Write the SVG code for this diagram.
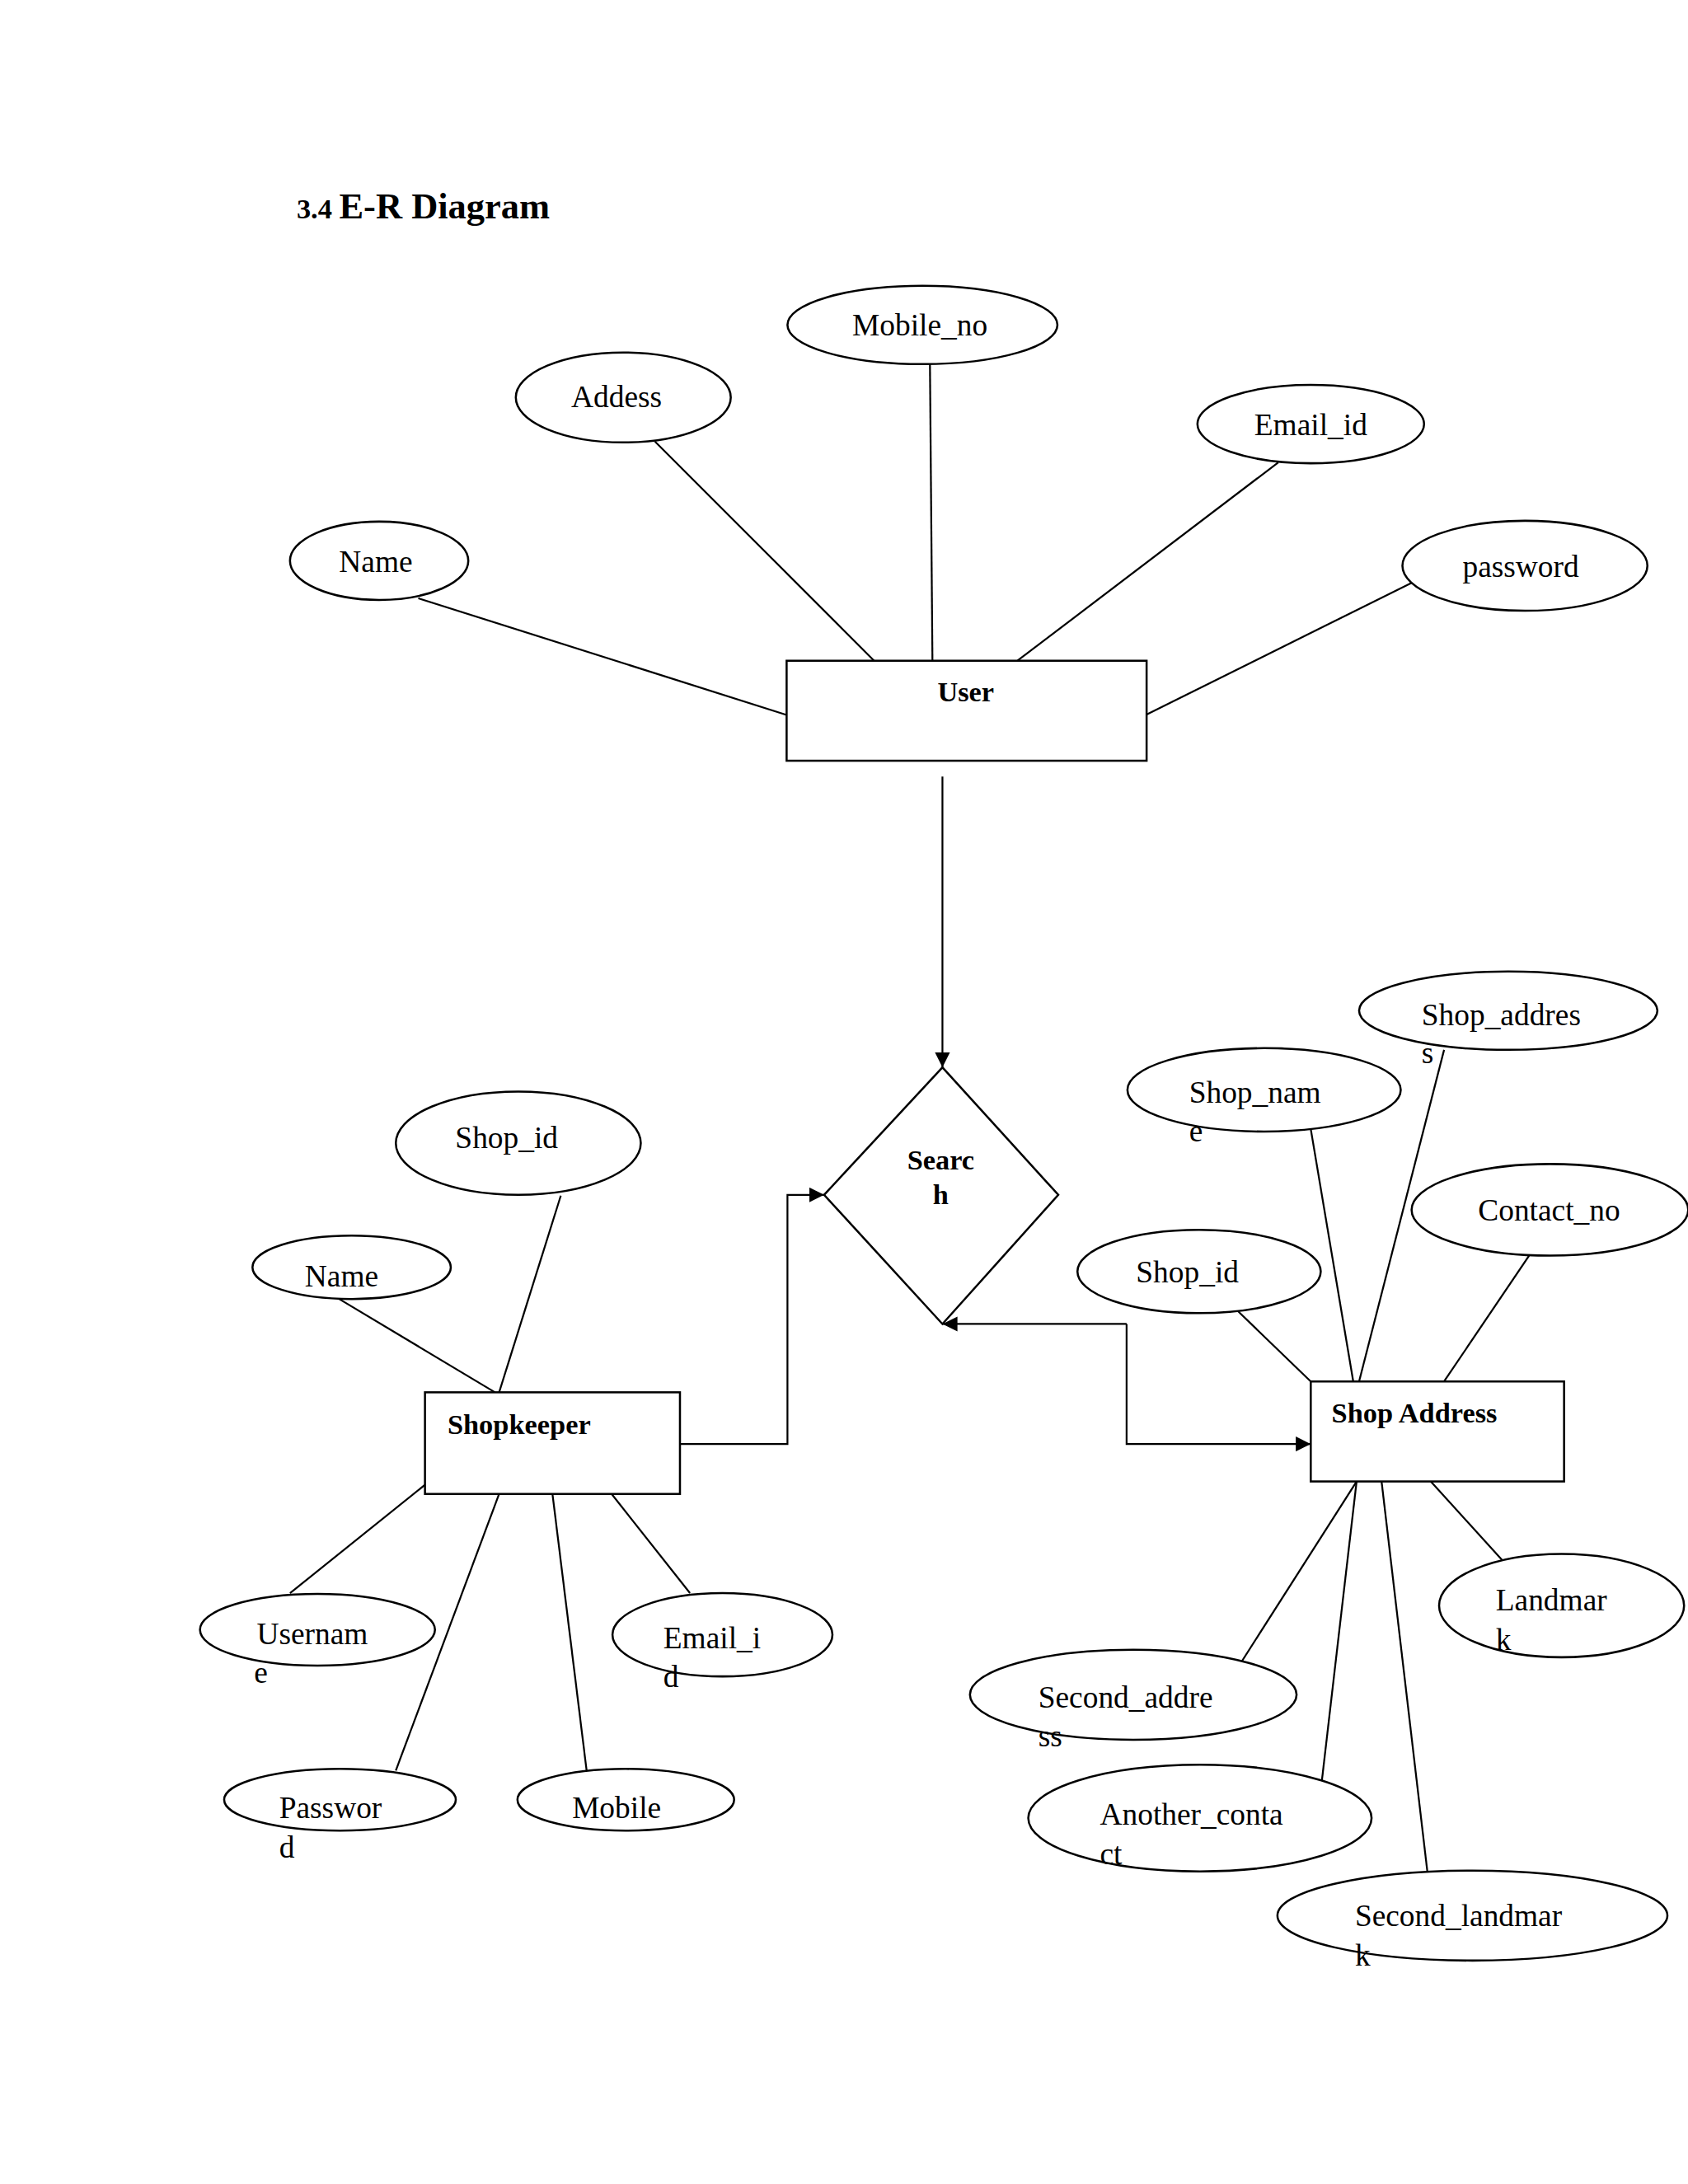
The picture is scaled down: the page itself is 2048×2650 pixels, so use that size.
<svg xmlns="http://www.w3.org/2000/svg" width="2048" height="2650" viewBox="0 0 2048 2650">
<style>
.e{fill:#fff;stroke:#000;stroke-width:2.5}
.r{fill:#fff;stroke:#000;stroke-width:2.5}
.t{font-family:"Liberation Serif",serif;font-size:37px;fill:#000}
.c{text-anchor:middle}
.b{font-family:"Liberation Serif",serif;font-size:34px;font-weight:bold;fill:#000}
#conn line,#conn polyline{stroke:#000;stroke-width:2.2;fill:none}
</style>
<defs>
<marker id="ah" viewBox="0 0 10 10" refX="10" refY="5" markerWidth="18" markerHeight="18" orient="auto" markerUnits="userSpaceOnUse"><path d="M0,0L10,5L0,10z" fill="#000"/></marker></defs>
<rect width="2048" height="2650" fill="#fff"/>
<g transform="scale(1.011)">
<text x="356" y="262" font-family="Liberation Serif,serif" font-weight="bold" font-size="44"><tspan font-size="34">3.4 </tspan>E-R Diagram</text>
<g id="conn">
<line x1="502" y1="718" x2="944" y2="858"/>
<line x1="786" y1="530" x2="1049" y2="793"/>
<line x1="1116" y1="437" x2="1119" y2="793"/>
<line x1="1534" y1="555" x2="1221" y2="793"/>
<line x1="1695" y1="699" x2="1375" y2="858"/>
<line x1="1131" y1="932" x2="1131" y2="1281" marker-end="url(#ah)"/>
<polyline points="816,1733 945,1733 945,1434 989,1434" marker-end="url(#ah)"/>
<polyline points="1352,1589 1131,1589" marker-end="url(#ah)"/>
<polyline points="1352,1589 1352,1733 1573,1733" marker-end="url(#ah)"/>
<line x1="673" y1="1435" x2="599" y2="1671"/>
<line x1="407" y1="1559" x2="594" y2="1671"/>
<line x1="510" y1="1782" x2="348" y2="1912"/>
<line x1="599" y1="1793" x2="475" y2="2125"/>
<line x1="663" y1="1793" x2="704" y2="2125"/>
<line x1="734" y1="1793" x2="828" y2="1912"/>
<line x1="1733" y1="1260" x2="1631" y2="1658"/>
<line x1="1573" y1="1355" x2="1624" y2="1658"/>
<line x1="1835" y1="1507" x2="1733" y2="1658"/>
<line x1="1486" y1="1574" x2="1573" y2="1658"/>
<line x1="1717" y1="1778" x2="1807" y2="1877"/>
<line x1="1628" y1="1778" x2="1487" y2="1999"/>
<line x1="1628" y1="1778" x2="1586" y2="2140"/>
<line x1="1658" y1="1778" x2="1713" y2="2247"/>
</g>
<g id="user"><rect class="r" x="944" y="793" width="432" height="120"/><text class="b c" x="1159" y="842">User</text></g>
<g id="search"><polygon class="r" points="1131,1281 1270,1434 1131,1589 989,1434"/><text class="b c" x="1129" y="1404">Searc</text><text class="b c" x="1129" y="1445">h</text></g>
<g id="shopkeeper"><rect class="r" x="510" y="1671" width="306" height="122"/><text class="b" x="537" y="1721">Shopkeeper</text></g>
<g id="shopaddress"><rect class="r" x="1573" y="1658" width="304" height="120"/><text class="b" x="1598" y="1707">Shop Address</text></g>
<g id="u_mobile"><ellipse class="e" cx="1107" cy="390" rx="162" ry="47"/><text class="t c" x="1104" y="403">Mobile_no</text></g>
<g id="u_addess"><ellipse class="e" cx="748" cy="477" rx="129" ry="54"/><text class="t c" x="740" y="489">Addess</text></g>
<g id="u_email"><ellipse class="e" cx="1573" cy="509" rx="136" ry="47"/><text class="t c" x="1573" y="522">Email_id</text></g>
<g id="u_name"><ellipse class="e" cx="455" cy="673" rx="107" ry="47"/><text class="t c" x="451" y="686">Name</text></g>
<g id="u_password"><ellipse class="e" cx="1830" cy="679" rx="147" ry="54"/><text class="t c" x="1825" y="692">password</text></g>
<g id="k_shopid"><ellipse class="e" cx="622" cy="1372" rx="147" ry="62"/><text class="t c" x="608" y="1378">Shop_id</text></g>
<g id="k_name"><ellipse class="e" cx="422" cy="1521" rx="119" ry="38"/><text class="t c" x="410" y="1544">Name</text></g>
<g id="k_username"><ellipse class="e" cx="381" cy="1956" rx="141" ry="43"/><text class="t" x="308" y="1973">Usernam</text><text class="t" x="305" y="2020">e</text></g>
<g id="k_password"><ellipse class="e" cx="408" cy="2160" rx="139" ry="37"/><text class="t" x="335" y="2182">Passwor</text><text class="t" x="335" y="2229">d</text></g>
<g id="k_mobile"><ellipse class="e" cx="751" cy="2160" rx="130" ry="37"/><text class="t c" x="740" y="2182">Mobile</text></g>
<g id="k_email"><ellipse class="e" cx="867" cy="1962" rx="132" ry="50"/><text class="t" x="796" y="1978">Email_i</text><text class="t" x="796" y="2025">d</text></g>
<g id="s_shopaddress"><ellipse class="e" cx="1810" cy="1213" rx="179" ry="47"/><text class="t" x="1706" y="1230">Shop_addres</text><text class="t" x="1706" y="1276">s</text></g>
<g id="s_shopname"><ellipse class="e" cx="1517" cy="1308" rx="164" ry="50"/><text class="t" x="1427" y="1323">Shop_nam</text><text class="t" x="1427" y="1370">e</text></g>
<g id="s_contact"><ellipse class="e" cx="1860" cy="1452" rx="166" ry="55"/><text class="t c" x="1859" y="1465">Contact_no</text></g>
<g id="s_shopid"><ellipse class="e" cx="1439" cy="1526" rx="146" ry="50"/><text class="t c" x="1425" y="1539">Shop_id</text></g>
<g id="s_landmark"><ellipse class="e" cx="1874" cy="1927" rx="147" ry="62"/><text class="t" x="1795" y="1933">Landmar</text><text class="t" x="1795" y="1980">k</text></g>
<g id="s_second_addr"><ellipse class="e" cx="1360" cy="2034" rx="196" ry="54"/><text class="t" x="1246" y="2049">Second_addre</text><text class="t" x="1246" y="2096">ss</text></g>
<g id="s_another"><ellipse class="e" cx="1440" cy="2182" rx="206" ry="64"/><text class="t" x="1320" y="2190">Another_conta</text><text class="t" x="1320" y="2237">ct</text></g>
<g id="s_second_land"><ellipse class="e" cx="1767" cy="2299" rx="234" ry="54"/><text class="t" x="1626" y="2312">Second_landmar</text><text class="t" x="1626" y="2359">k</text></g>
</g>
</svg>
